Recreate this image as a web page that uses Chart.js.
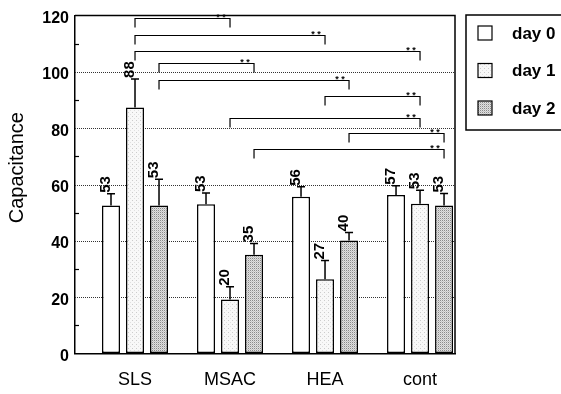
<!DOCTYPE html>
<html>
<head>
<meta charset="utf-8">
<script src="https://cdn.jsdelivr.net/npm/chart.js@4.4.1/dist/chart.umd.min.js"></script>
<style>
html, body { margin: 0; padding: 0; background: #fff; }
#wrap { width: 561px; height: 394px; }
</style>
</head>
<body>
<div id="wrap"><canvas id="chart" width="561" height="394"></canvas></div>
<script>
// categories and series
var groups = ['SLS', 'MSAC', 'HEA', 'cont'];
var groupPos = [0, 1, 2, 3];
var seriesNames = ['day 0', 'day 1', 'day 2'];
var yTitle = 'Capacitance';

// bar heights
var day0 = [52.6, 53.0, 55.7, 56.3];
var day1 = [87.4, 19.2, 26.4, 53.2];
var day2 = [52.6, 35.1, 40.1, 52.6];

// error bars (upper half only)
var day0Err = [4.1, 4.0, 3.5, 3.3];
var day1Err = [10.1, 4.5, 6.6, 4.8];
var day2Err = [9.3, 4.0, 2.9, 4.2];

// printed values above the bars
var day0Text = ['53', '53', '56', '57'];
var day1Text = ['88', '20', '27', '53'];
var day2Text = ['53', '35', '40', '53'];

// y axis
var yMin = 0, yMax = 120, yStep = 10;
var dottedLevels = [20, 40, 60, 80, 100];

// significance brackets: [group, day] -> [group, day] at a level
var bracketFrom = [[0, 1], [0, 1], [0, 1], [0, 2], [0, 2], [2, 1], [1, 1], [2, 2], [1, 2]];
var bracketTo   = [[1, 1], [2, 1], [3, 1], [1, 2], [2, 2], [3, 1], [3, 1], [3, 2], [3, 2]];
var bracketLevel = [119.2, 113.1, 107.5, 103.0, 97.0, 91.5, 83.8, 78.3, 72.6];
var bracketMark = '* *';

var FONT = '"Liberation Sans", Arial, Helvetica, sans-serif';

var canvas = document.getElementById('chart');
var ctx = canvas.getContext('2d');

function makePattern(size, bg, dots) {
    var c = document.createElement('canvas');
    c.width = size; c.height = size;
    var p = c.getContext('2d');
    p.fillStyle = bg;
    p.fillRect(0, 0, size, size);
    dots.forEach(function(d) {
        p.fillStyle = d[2];
        p.fillRect(d[0], d[1], 1, 1);
    });
    return ctx.createPattern(c, 'repeat');
}

var fillDay0 = '#ffffff';
var fillDay1 = makePattern(4, '#f8f8f8', [[0, 0, '#cccccc'], [2, 2, '#e0e0e0']]);
var fillDay2 = makePattern(2, '#e0e0e0', [[0, 0, '#8a8a8a'], [1, 1, '#c4c4c4']]);

function toPoints(vals) {
    return vals.map(function(v, i) { return { x: groupPos[i], y: v }; });
}

var errs = [day0Err, day1Err, day2Err];
var texts = [day0Text, day1Text, day2Text];

var overlay = {
    id: 'overlay',
    beforeDatasetsDraw: function(chart) {
        var c = chart.ctx, a = chart.chartArea, ys = chart.scales.y;
        c.save();
        // dotted reference lines
        c.strokeStyle = '#333';
        c.lineWidth = 1;
        c.setLineDash([1, 1]);
        dottedLevels.forEach(function(v) {
            var py = Math.round(ys.getPixelForValue(v)) + 0.5;
            c.beginPath();
            c.moveTo(a.left, py);
            c.lineTo(a.right, py);
            c.stroke();
        });
        c.setLineDash([]);
        // minor ticks pointing inward
        c.strokeStyle = '#000';
        c.lineWidth = 1.2;
        ys.ticks.forEach(function(t) {
            if (t.value % 20 !== 0) {
                var py = Math.round(ys.getPixelForValue(t.value)) + 0.5;
                c.beginPath();
                c.moveTo(a.left, py);
                c.lineTo(a.left + 4, py);
                c.stroke();
            }
        });
        c.restore();
    },
    afterDatasetsDraw: function(chart) {
        var c = chart.ctx, a = chart.chartArea, ys = chart.scales.y;
        c.save();
        c.strokeStyle = '#000';
        c.fillStyle = '#000';
        c.lineWidth = 1.5;

        // error bars + rotated value labels
        chart.data.datasets.forEach(function(ds, di) {
            var meta = chart.getDatasetMeta(di);
            meta.data.forEach(function(bar, i) {
                var top = ys.getPixelForValue(ds.data[i].y + errs[di][i]);
                c.beginPath();
                c.moveTo(bar.x, bar.y);
                c.lineTo(bar.x, top);
                c.moveTo(bar.x - 4, top);
                c.lineTo(bar.x + 4, top);
                c.stroke();

                c.save();
                c.translate(bar.x - 5, top - 1);
                c.rotate(-Math.PI / 2);
                c.font = 'bold 15px ' + FONT;
                c.textAlign = 'left';
                c.textBaseline = 'middle';
                c.fillText(texts[di][i], 0, 0);
                c.restore();
            });
        });

        // significance brackets
        c.lineWidth = 1.2;
        bracketLevel.forEach(function(lv, k) {
            var f = chart.getDatasetMeta(bracketFrom[k][1]).data[bracketFrom[k][0]];
            var t = chart.getDatasetMeta(bracketTo[k][1]).data[bracketTo[k][0]];
            var py = Math.round(ys.getPixelForValue(lv)) + 0.5;
            c.beginPath();
            c.moveTo(f.x, py + 9);
            c.lineTo(f.x, py);
            c.lineTo(t.x, py);
            c.lineTo(t.x, py + 9);
            c.stroke();
            c.font = 'bold 9px ' + FONT;
            c.textAlign = 'center';
            c.textBaseline = 'middle';
            c.fillText(bracketMark, t.x - 9, py - 1);
        });

        // frame top and right
        c.lineWidth = 1.5;
        c.beginPath();
        c.moveTo(a.left, a.top);
        c.lineTo(a.right, a.top);
        c.lineTo(a.right, a.bottom);
        c.stroke();

        // legend box
        var lx = a.right + 11, ly = 15;
        c.strokeRect(lx, ly, 110, 115);
        chart.data.datasets.forEach(function(ds, di) {
            var cy = ly + 18 + di * 37.5;
            c.fillStyle = ds.backgroundColor;
            c.fillRect(lx + 12, cy - 7, 14, 14);
            c.lineWidth = 1.2;
            c.strokeRect(lx + 12, cy - 7, 14, 14);
            c.fillStyle = '#000';
            c.font = 'bold 17px ' + FONT;
            c.textAlign = 'left';
            c.textBaseline = 'middle';
            c.fillText(ds.label, lx + 46, cy + 1);
        });

        // y axis title, sits above the axis centre in the original
        c.save();
        c.translate(17.5, a.top + (a.bottom - a.top) * 0.45);
        c.rotate(-Math.PI / 2);
        c.font = '20px ' + FONT;
        c.textAlign = 'center';
        c.textBaseline = 'middle';
        c.fillText(yTitle, 0, 0);
        c.restore();

        c.restore();
    }
};

function dataset(idx, vals, fill) {
    return {
        label: seriesNames[idx],
        data: toPoints(vals),
        backgroundColor: fill,
        borderColor: '#000',
        borderWidth: 1.5,
        borderSkipped: false,
        categoryPercentage: 0.758,
        barPercentage: 0.75
    };
}

new Chart(ctx, {
    type: 'bar',
    data: {
        datasets: [
            dataset(0, day0, fillDay0),
            dataset(1, day1, fillDay1),
            dataset(2, day2, fillDay2)
        ]
    },
    options: {
        responsive: false,
        animation: false,
        layout: { padding: { top: 10, right: 106, left: 0, bottom: 0 } },
        plugins: {
            legend: { display: false },
            tooltip: { enabled: false }
        },
        scales: {
            x: {
                type: 'linear',
                offset: false,
                min: -0.6316,
                max: 3.368,
                grid: { display: false, drawTicks: false },
                border: { display: true, color: '#000', width: 1.5 },
                afterBuildTicks: function(scale) {
                    scale.ticks = groupPos.map(function(v) { return { value: v }; });
                },
                afterFit: function(scale) { scale.height = 40.5; },
                ticks: {
                    autoSkip: false,
                    maxRotation: 0,
                    padding: 16,
                    color: '#000',
                    font: { family: FONT, size: 18 },
                    callback: function(v) { return groups[v]; }
                }
            },
            y: {
                min: yMin,
                max: yMax,
                grid: { drawOnChartArea: false, drawTicks: false },
                border: { display: true, color: '#000', width: 1.5 },
                afterFit: function(scale) { scale.width = 75; },
                ticks: {
                    stepSize: yStep,
                    padding: 6,
                    labelOffset: 3,
                    color: '#000',
                    font: { family: FONT, size: 16, weight: 'bold' },
                    callback: function(v) { return v % 20 === 0 ? v : ''; }
                }
            }
        }
    },
    plugins: [overlay]
});
</script>
</body>
</html>
